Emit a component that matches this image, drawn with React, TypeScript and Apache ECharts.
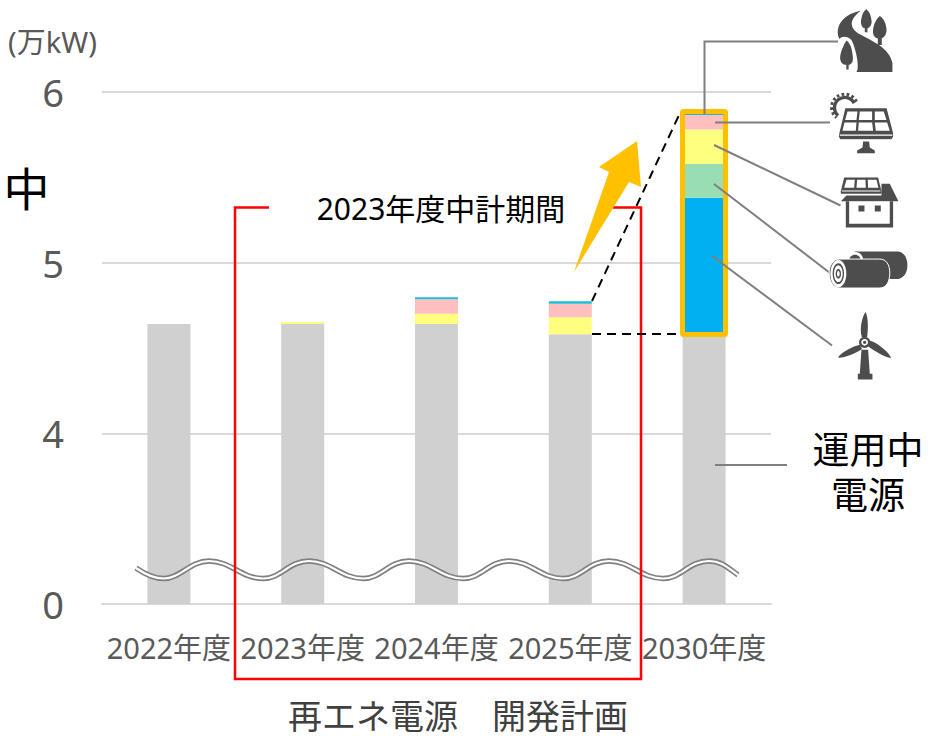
import React, { useEffect, useRef } from "react";
import * as echarts from "echarts";

const categories = ["2022年度", "2023年度", "2024年度", "2025年度", "2030年度"];
const tickLabels = ["0", "4", "5", "6"];
const axisBreakOffset = 3; // the axis jumps from 0 straight to 4 (wavy line): 4..6 are drawn at 1..3
const operating = [4.64, 4.64, 4.64, 4.58, 4.58];
const wind = [0, 0, 0, 0, 0.8];
const biomass = [0, 0, 0, 0, 0.2];
const rooftopSolar = [0, 0.012, 0.06, 0.1, 0.2];
const solar = [0, 0, 0.085, 0.08, 0.085];
const hydro = [0, 0, 0.012, 0.014, 0.006];

const FONT = '"Noto Sans", "Noto Sans CJK JP", sans-serif';
const DARK = "#4d4d4d";
const LEAD = "#7f7f7f";

function waveD(): string {
  const crests = [209, 309, 409, 509, 609, 709];
  let d = "M136 568 C146 575 154 578.5 164 578.5 C180 578.5 190 561 209 561";
  crests.forEach((c, i) => {
    if (i < crests.length - 1) {
      const n = crests[i + 1];
      d += ` C${c + 22} 561 ${c + 32} 578.5 ${c + 54} 578.5 C${c + 72} 578.5 ${c + 80} 561 ${n} 561`;
    }
  });
  d += " C722 561 728 568 738 575";
  return d;
}

const shapes: Record<string, string> = {
  wave: waveD(),
  road: "M603 32 C565 60 570 85 600 103 C640 125 690 145 698 190 L698 216 L590 216 C600 205 590 150 575 120 C560 105 540 110 540 118 C525 95 535 45 603 32Z",
  tree1: "M560 116 C545 135 535 165 538 180 C540 195 552 198 556 198 L556 212 L570 212 L570 198 C580 195 585 185 582 165 C580 145 572 125 560 116Z",
  tree2: "M619 28 C608 35 602 60 604 72 C606 82 612 85 615 85 L615 97 L623 97 L623 85 C632 82 637 72 635 60 C633 45 628 33 619 28Z",
  tree3: "M660 48 C645 60 638 85 640 100 C642 112 650 115 654 115 L654 135 L666 135 L666 115 C675 112 682 100 680 85 C678 70 672 55 660 48Z",
  sunTeeth: "M590 305 A39.4 39.4 0 1 0 530 353",
  sunRing: "M583 310 A31 31 0 1 0 535 347",
  panel: "M555 323 L682 323 L702 400 L702 412 L695 420 L540 420 L535 410 L537 398Z",
  panelCells: "M563 335 L593 335 L590 360 L556 360Z M600 335 L637 335 L637 360 L597 360Z M645 335 L672 335 L680 360 L645 360Z M554 368 L590 368 L588 393 L548 393Z M597 368 L637 368 L640 393 L595 393Z M645 368 L682 368 L690 393 L648 393Z M540 404 L698 404 L698 408 L540 408Z",
  stand: "M610 425 L628 425 L630 443 L645 452 L645 460 L592 460 L592 452 L608 443Z",
  housePanel: "M553 533 L655 533 L665 574 L665 582 L543 582 L543 574Z",
  housePanelCells: "M560 540 L585 540 L583 564 L553 564Z M592 540 L617 540 L618 564 L590 564Z M624 540 L650 540 L656 564 L625 564Z M546 572 L662 572 L662 575 L546 575Z",
  roof: "M543 604 L560 587 L665 587 L665 552 L690 552 L716 604Z",
  wall: "M558 604 L700 604 L700 683 L558 683Z",
  wallInner: "M568 604 L690 604 L690 672 L568 672Z",
  windows: "M596 617 L614 617 L614 635 L596 635Z M645 617 L663 617 L663 635 L645 635Z",
  logBack: "M585 755 L712 755 C733 755 743 775 743 797 C743 820 730 838 710 838 L585 838Z",
  logFront: "M540 778 L660 778 C680 778 690 795 690 820 C690 845 680 865 660 865 L540 865 C520 865 508 845 508 820 C508 797 520 778 540 778Z",
  tower: "M605 1050 L625 1050 L630 1122 L638 1122 L638 1140 L594 1140 L594 1122 L600 1122Z",
  blades: "M617 937 C625 950 626 985 622 1012 L606 1012 C598 985 608 950 617 937Z M600 1035 L607 1048 C585 1062 555 1075 536 1074 C535 1065 575 1040 600 1035Z M632 1023 C655 1030 690 1060 694 1075 C680 1076 645 1055 625 1040Z",
};
Object.keys(shapes).forEach((k) => {
  echarts.graphic.registerShape("s_" + k, echarts.graphic.extendPath(shapes[k], {}) as any);
});

const Z = 100;
const icon = (k: string, style: any) => ({ type: "s_" + k, x: 660, y: 0, scaleX: 1 / 3, scaleY: 1 / 3, z: Z + 2, style });
const ell = (cx: number, cy: number, rx: number, ry: number, fill: string) => ({
  type: "ellipse",
  z: Z + 3,
  shape: { cx: 660 + cx / 3, cy: cy / 3, rx: rx / 3, ry: ry / 3 },
  style: { fill },
});
const seg = (pts: number[][], stroke: string, lineWidth: number, lineDash?: number[]) => ({
  type: "polyline",
  z: Z + 1,
  shape: { points: pts },
  style: { stroke, lineWidth, fill: "none", lineDash },
});
const txt = (text: string, x: number, y: number, fontSize: number, fill = "#000", lineHeight?: number) => ({
  type: "text",
  z: Z + 4,
  style: { text, x, y, fontSize, fontFamily: FONT, fill, lineHeight, textAlign: "center", textVerticalAlign: "middle", textBaseline: "middle" },
});

const graphics: any[] = [
  // wavy axis break
  { type: "s_wave", z: Z, style: { stroke: "#808080", lineWidth: 5.5, fill: "none" } },
  { type: "s_wave", z: Z, style: { stroke: "#ffffff", lineWidth: 2.2, fill: "none" } },
  // red bracket
  seg([[269, 207.5], [235, 207.5], [235, 679], [641, 679], [641, 207.5], [613, 207.5]], "#ff0000", 2.5),
  // arrow
  {
    type: "polygon",
    z: Z + 1,
    shape: { points: [[574, 272], [629, 182], [641, 187], [637, 141], [599, 167], [609, 172]] },
    style: { fill: "#ffc000" },
  },
  // dashed connectors
  seg([[592, 301], [680, 113]], "#000", 2, [9, 6]),
  seg([[592, 334], [680, 334]], "#000", 2, [9, 6]),
  // highlight box
  { type: "rect", z: Z + 1, shape: { x: 682.5, y: 111.5, width: 43, height: 223, r: 1 }, style: { stroke: "#ffc000", lineWidth: 5, fill: "none" } },
  // leaders
  seg([[704.5, 114], [704.5, 41.5], [838, 41.5]], LEAD, 2),
  seg([[715, 122.5], [830, 122.5]], LEAD, 2),
  seg([[714, 145], [840.5, 205.5]], LEAD, 2),
  seg([[714, 184], [830, 273]], LEAD, 2),
  seg([[712, 256], [832, 345.5]], LEAD, 2),
  seg([[715, 465], [787, 465]], LEAD, 2),
  // road
  icon("road", { fill: DARK }),
  icon("tree1", { fill: DARK, stroke: "#fff", lineWidth: 7 }),
  icon("tree2", { fill: DARK }),
  icon("tree3", { fill: DARK }),
  // solar
  icon("sunTeeth", { stroke: DARK, lineWidth: 9, fill: "none", lineDash: [8, 7] }),
  icon("sunRing", { stroke: DARK, lineWidth: 10, fill: "none" }),
  icon("panel", { fill: DARK, stroke: "#fff", lineWidth: 4 }),
  icon("panelCells", { fill: "#fff" }),
  icon("stand", { fill: DARK }),
  // house
  icon("housePanel", { fill: DARK }),
  icon("housePanelCells", { fill: "#fff" }),
  icon("roof", { fill: DARK }),
  icon("wall", { fill: DARK }),
  icon("wallInner", { fill: "#fff" }),
  icon("windows", { fill: DARK }),
  // logs
  icon("logBack", { fill: DARK }),
  ell(585, 778, 24, 22, "#fff"),
  ell(585, 780, 17, 16, DARK),
  { ...icon("logFront", { fill: DARK, stroke: "#fff", lineWidth: 3 }), z: Z + 3 },
  { ...ell(535, 821, 24, 41, "#fff"), z: Z + 4 },
  { ...ell(535, 821, 17, 31, DARK), z: Z + 4 },
  { ...ell(535, 821, 13, 25, "#fff"), z: Z + 4 },
  { ...ell(535, 821, 8, 15, DARK), z: Z + 4 },
  { ...ell(535, 821, 4, 9, "#fff"), z: Z + 4 },
  // turbine
  icon("tower", { fill: DARK }),
  icon("blades", { fill: DARK }),
  ell(614, 1027, 17, 17, DARK),
  ell(614, 1027, 10, 10, "#fff"),
  ell(614, 1027, 5, 5, DARK),
  // texts
  txt("(万kW)", 52.5, 41, 29, "#595959"),
  txt("中", 26.5, 188, 46),
  txt("2023年度中計期間", 441, 208, 30),
  txt("運用中\n電源", 868, 471.5, 37, "#000", 45),
  txt("再エネ電源　開発計画", 458, 716, 34, "#404040"),
];

const series = [
  { name: "運用中電源", color: "#d0d0d0", data: operating.map((v) => v - axisBreakOffset) },
  { name: "風力", color: "#00b0f0", data: wind },
  { name: "バイオマス", color: "#99ddb4", data: biomass },
  { name: "屋根置き太陽光", color: "#ffff7f", data: rooftopSolar },
  { name: "太陽光", color: "#ffbfbf", data: solar },
  { name: "水力", color: "#1cbcd8", data: hydro },
].map((s) => ({
  type: "bar" as const,
  name: s.name,
  stack: "total",
  barWidth: 43,
  data: s.data,
  itemStyle: { color: s.color },
  silent: true,
}));

export default function App() {
  const ref = useRef<HTMLDivElement>(null);
  useEffect(() => {
    const chart = echarts.init(ref.current!, undefined, { renderer: "svg" });
    chart.setOption({
      animation: false,
      backgroundColor: "#ffffff",
      textStyle: { fontFamily: FONT },
      grid: { left: 102, right: 161, top: 92, bottom: 132 },
      xAxis: {
        type: "category",
        data: categories,
        axisTick: { show: false },
        axisLine: { lineStyle: { color: "#d9d9d9", width: 2 } },
        axisLabel: { interval: 0, fontSize: 29, color: "#595959", margin: 29, fontFamily: FONT },
      },
      yAxis: {
        type: "value",
        min: 0,
        max: 3,
        interval: 1,
        axisLine: { show: false },
        axisTick: { show: false },
        splitLine: { lineStyle: { color: "#d9d9d9", width: 2 } },
        axisLabel: {
          fontSize: 38,
          color: "#595959",
          margin: 38,
          fontFamily: FONT,
          formatter: (v: number) => tickLabels[v],
        },
      },
      series,
      graphic: { elements: graphics },
    });
    return () => chart.dispose();
  }, []);
  return <div ref={ref} style={{ position: "absolute", left: 0, top: 0, width: 932, height: 736 }} />;
}
